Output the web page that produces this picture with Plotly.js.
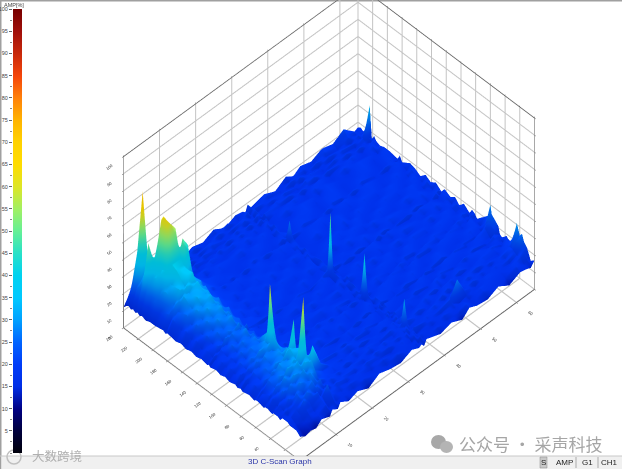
<!DOCTYPE html>
<html><head><meta charset="utf-8">
<script src="https://cdn.plot.ly/plotly-3.0.1.min.js"></script>
<style>html,body{margin:0;padding:0;background:#fff}#c{width:622px;height:469px}</style></head>
<body><div id="c"></div>
<script>
const scanX=[0,1.5,3,4.5,6,8.3,9,10.5,11.2,13.5,16,19,22,25,28,31,33,33.7,34.4,35.1,39,42,45,47,49,52,55,58,61,63,64,65];
const indexY=[0,5,10,14,17,20,24,27,30,36,38,44,47,49,58,60,62,69,78,81,85,88,96,102,108,114,122,124,126,134,141,148,155,162,169,180,183,186,197,204,210,215,218,221,224,227,230,233,236,240];
const amplitudeRows=[
[14,12,13,12,15,13,16,14,17,14,16,13,17,15,14,17,15,16,14,17,14,16,13,17,15,14,17,13,16,15,14,17],
[16,13,14,15,16,18,15,17,15,16,15,17,16,15,18,16,17,15,18,15,17,15,16,18,15,17,16,15,18,16,17,15],
[16,14,15,17,16,19,17,20,18,16,18,17,15,18,16,17,15,18,16,17,15,18,16,17,15,18,17,16,18,19,20,21],
[16,15,17,19,18,20,19,24,19,18,16,18,17,16,15,18,16,17,18,15,17,16,18,15,17,16,18,17,16,18,21,23],
[17,16,18,23,20,22,18,21,17,20,18,16,19,17,18,16,18,16,17,19,17,18,20,28,19,16,18,17,18,19,22,27],
[17,17,19,21,25,20,23,19,21,17,19,18,16,19,17,18,17,19,17,16,18,17,18,21,17,19,16,18,17,20,23,25],
[17,16,20,23,21,26,22,24,19,20,17,19,18,16,19,16,18,18,20,17,17,19,16,18,19,17,18,16,19,20,24,31],
[15,18,19,24,23,25,27,21,22,19,19,16,18,18,16,17,18,20,33,20,16,17,19,16,17,19,16,18,17,19,21,24],
[16,17,22,21,27,24,28,26,21,20,17,19,16,19,17,19,17,18,22,17,19,16,18,19,16,18,19,17,16,19,20,17],
[16,19,20,26,24,29,26,31,25,20,19,17,19,16,18,16,19,17,18,16,17,19,16,18,19,16,17,19,18,16,19,18],
[15,17,24,23,29,27,32,30,38,24,19,18,16,19,17,18,17,16,19,17,16,18,19,16,17,19,16,18,19,17,16,19],
[16,20,21,28,25,31,27,33,27,22,18,17,20,17,16,19,18,17,16,19,18,16,17,19,16,18,17,19,16,18,19,16],
[16,19,24,24,30,29,33,64,28,21,20,19,17,19,18,16,17,19,17,16,19,17,16,19,18,16,19,17,16,19,18,17],
[15,20,22,27,26,31,29,34,25,22,18,17,19,16,19,17,16,17,19,17,16,19,17,16,19,17,16,19,17,16,20,21],
[16,18,24,24,29,27,33,31,26,20,19,18,16,19,16,19,17,18,16,19,17,16,19,17,16,19,18,16,19,20,22,25],
[16,19,21,26,25,31,32,47,23,21,17,19,18,17,19,16,18,17,19,16,18,17,16,19,17,16,19,17,16,19,23,30],
[15,18,23,23,28,27,32,26,24,19,19,16,18,16,17,19,17,16,18,19,16,19,17,16,18,19,16,18,17,16,20,23],
[16,20,20,25,24,29,27,28,21,20,17,20,16,19,16,17,19,18,16,19,18,16,19,17,16,19,17,16,19,18,16,20],
[15,17,22,22,27,26,32,24,22,18,19,17,19,17,19,16,17,16,20,16,19,18,16,19,17,16,19,18,16,19,17,16],
[16,19,20,25,24,30,33,26,20,20,16,18,17,19,16,19,17,19,42,18,16,19,17,16,19,18,16,19,17,16,19,18],
[15,17,22,23,28,28,62,25,22,18,19,16,19,17,18,16,17,18,21,17,18,16,19,17,16,19,18,16,19,17,16,19],
[16,20,20,25,24,29,33,26,19,20,17,19,16,16,19,18,16,19,17,16,19,17,16,19,18,16,19,17,16,19,18,16],
[15,17,22,21,26,25,28,21,21,18,19,17,18,19,17,16,18,16,19,17,16,19,18,16,19,17,16,19,18,16,17,19],
[16,19,19,24,23,27,23,24,18,19,16,18,19,16,18,19,16,17,19,16,18,16,19,17,16,19,18,16,19,17,19,16],
[15,17,21,21,26,24,26,20,21,17,19,17,16,19,17,16,19,18,16,19,17,19,16,18,19,16,17,19,16,18,16,19],
[16,19,19,24,22,28,22,23,18,19,16,18,19,16,19,17,16,19,18,16,19,16,18,17,16,19,18,16,19,17,19,17],
[15,17,21,21,26,24,26,20,21,17,19,17,18,18,16,19,17,20,16,18,16,18,19,16,19,17,16,19,18,16,18,19],
[16,19,19,25,24,28,22,24,19,18,16,19,17,19,17,19,21,53,19,16,19,16,17,19,16,18,19,16,17,19,16,18],
[15,17,22,21,26,24,26,20,20,19,19,17,16,18,16,17,18,21,16,19,17,19,16,18,19,16,17,19,16,18,19,16],
[16,19,20,25,24,29,24,24,19,20,16,19,18,16,19,16,17,19,18,16,18,16,19,17,16,19,18,16,19,17,16,19],
[15,17,23,23,28,26,28,22,21,17,19,16,19,17,16,19,18,16,19,17,16,19,17,16,19,17,16,19,18,16,19,17],
[16,20,21,27,26,30,25,26,20,20,16,18,16,19,18,17,19,16,18,17,19,17,19,18,16,19,17,16,19,17,16,19],
[15,18,25,25,30,28,29,23,22,18,19,17,19,16,19,16,17,19,17,16,18,19,16,19,17,16,19,18,16,19,17,16],
[16,21,22,29,28,32,27,27,21,20,16,19,17,19,16,19,18,16,19,17,16,17,19,16,19,17,16,19,17,16,19,18],
[15,19,26,27,32,30,31,24,23,19,19,16,19,17,18,16,17,19,17,16,19,16,19,17,16,19,18,16,19,17,16,19],
[16,22,24,31,30,34,29,28,22,20,17,19,16,19,16,19,18,17,20,16,18,19,16,18,19,16,19,17,16,19,18,16],
[15,20,28,29,34,32,32,26,24,19,19,16,19,17,19,17,16,19,28,19,17,16,19,17,16,19,17,16,19,18,16,19],
[16,23,26,33,32,37,30,29,23,21,17,18,16,19,17,16,19,18,20,16,19,17,16,19,18,16,19,17,16,19,17,16],
[15,21,30,32,38,36,35,28,26,20,19,17,17,16,19,17,16,19,17,16,18,19,16,18,19,16,17,19,16,18,19,17],
[15,24,29,38,40,41,50,44,23,20,16,19,18,19,16,19,17,16,19,17,16,19,18,16,19,17,16,19,18,16,19,17],
[14,23,34,37,63,55,32,25,19,18,19,17,16,17,19,16,18,19,17,16,19,17,16,19,18,16,19,17,16,19,17,16],
[15,26,33,44,64,38,25,19,18,17,16,19,17,19,17,18,16,17,19,16,18,19,16,18,19,16,17,19,16,18,19,17],
[14,25,38,43,61,31,21,18,17,19,17,16,19,16,19,16,18,19,16,18,17,16,19,17,16,19,18,16,19,17,16,19],
[15,28,51,38,49,22,18,17,19,16,19,17,16,19,17,19,16,17,16,19,18,19,16,18,19,16,17,19,16,18,19,16],
[14,25,37,31,26,18,17,19,16,17,16,19,17,16,19,16,18,19,18,16,19,17,16,19,18,16,19,17,16,19,25,35],
[15,26,30,37,21,19,16,17,19,16,19,16,19,17,16,19,17,16,19,17,16,19,17,16,19,17,16,19,18,17,20,21],
[14,24,35,41,22,17,19,16,18,19,16,18,19,16,18,19,16,17,19,16,18,17,16,19,17,16,19,18,16,19,17,18],
[15,27,37,52,20,19,17,16,19,17,19,16,17,19,16,17,19,16,18,19,17,16,19,18,16,19,17,16,19,17,18,17],
[14,24,41,74,31,18,16,19,17,16,17,19,16,17,19,16,18,17,19,16,19,17,16,19,18,16,19,17,20,19,17,18],
[12,17,19,25,18,20,15,18,16,19,15,18,16,19,15,18,17,15,19,16,18,15,19,16,19,17,20,18,22,18,16,17]
];
const barLevels=[[0],[5],[10],[15],[20],[25],[30],[35],[40],[45],[50],[55],[60],[65],[70],[75],[80],[85],[90],[95],[100]];
const barTicks=[0,5,10,15,20,25,30,35,40,45,50,55,60,65,70,75,80,85,90,95,100];
const ampColors=[[0,'#00000a'],[0.05,'#00003c'],[0.10,'#000082'],[0.15,'#002ee6'],[0.20,'#003cf8'],[0.25,'#0064ff'],[0.30,'#00a0ff'],[0.35,'#00c8ff'],[0.40,'#00d2f0'],[0.45,'#28e1c8'],[0.50,'#64f096'],[0.55,'#a0f064'],[0.60,'#dce628'],[0.65,'#ffdc00'],[0.70,'#ffd200'],[0.75,'#ffb400'],[0.80,'#ff820a'],[0.85,'#f5460a'],[0.90,'#c8280a'],[0.95,'#a00f0a'],[1,'#780000']];

function ax(range,dt){return {range:range,dtick:dt,title:{text:''},showbackground:false,showspikes:false,zeroline:false,
  gridcolor:'#c4c4c4',gridwidth:2.5,linecolor:'#555',linewidth:1.5,showline:true,mirror:'all',ticks:'outside',ticklen:2,tickcolor:'#555',
  tickfont:{size:7,color:'#333',family:'Liberation Sans'}};}

const surface={type:'surface',x:scanX,y:indexY,z:amplitudeRows,cmin:0,cmax:100,colorscale:ampColors,showscale:false,
  lighting:{ambient:0.9,diffuse:0.2,specular:0,roughness:1,fresnel:0},hoverinfo:'skip',scene:'scene'};
const bar={type:'heatmap',z:barLevels,y:barTicks,x:[0],zmin:0,zmax:100,colorscale:ampColors,showscale:false,zsmooth:'best',xaxis:'x',yaxis:'y',hoverinfo:'skip'};
const PW=622,PH=469;
const note=(x,y,text,size,color,family)=>({xref:'paper',yref:'paper',x:x/PW,y:(PH-y)/PH,text:text,showarrow:false,xanchor:'center',yanchor:'middle',font:{size:size,color:color,family:family||'Liberation Sans'}});
const layout={width:PW,height:PH,margin:{l:0,r:0,t:0,b:0},paper_bgcolor:'#fff',showlegend:false,
  scene:{domain:{x:[0.058,1],y:[13/PH,1]},bgcolor:'rgba(0,0,0,0)',aspectmode:'manual',aspectratio:{x:1.444,y:1.103,z:1.121},
    camera:{projection:{type:'orthographic'},eye:{x:-0.952,y:-0.966,z:1.469},center:{x:0,y:0,z:-0.033},up:{x:0,y:0,z:1}},
    xaxis:ax([0,65],10),yaxis:ax([0,240],20),zaxis:ax([0,100],10)},
  xaxis:{domain:[13/PW,22/PW],visible:false,fixedrange:true},
  yaxis:{domain:[(PH-453)/PH,(PH-9)/PH],range:[0,100],side:'left',tickvals:barTicks.slice(1),ticks:'outside',ticklen:3,tickcolor:'#666',
    tickfont:{size:5.5,color:'#444',family:'Liberation Sans'},showgrid:false,zeroline:false,showline:false,fixedrange:true,
    minor:{dtick:2.5,ticks:'outside',ticklen:2,tickcolor:'#888'}},
  shapes:[
   {type:'rect',xref:'paper',yref:'paper',x0:0,x1:1,y0:1-1.5/PH,y1:1,fillcolor:'#a0a0a0',line:{width:0},layer:'below'},
   {type:'rect',xref:'paper',yref:'paper',x0:0,x1:1.5/PW,y0:0,y1:1,fillcolor:'#a0a0a0',line:{width:0},layer:'below'},
   {type:'rect',xref:'paper',yref:'paper',x0:1.5/PW,x1:1,y0:0,y1:13/PH,fillcolor:'#f0f0f0',line:{width:0},layer:'below'},
   {type:'line',xref:'paper',yref:'paper',x0:0,x1:1,y0:13/PH,y1:13/PH,line:{width:1,color:'#c8c8c8'},layer:'below'},
   {type:'rect',xref:'paper',yref:'paper',x0:540/PW,x1:547/PW,y0:1/PH,y1:12/PH,fillcolor:'#c8c8c8',line:{width:0.5,color:'#888'},layer:'below'},
   {type:'line',xref:'paper',yref:'paper',x0:576/PW,x1:576/PW,y0:1/PH,y1:12/PH,line:{width:1,color:'#aaa'},layer:'below'},
   {type:'line',xref:'paper',yref:'paper',x0:598/PW,x1:598/PW,y0:1/PH,y1:12/PH,line:{width:1,color:'#aaa'},layer:'below'},
   {type:'circle',xref:'paper',yref:'paper',x0:431/PW,x1:446/PW,y0:(PH-449)/PH,y1:(PH-435)/PH,fillcolor:'#a8a8a8',line:{width:0},layer:'below'},
   {type:'circle',xref:'paper',yref:'paper',x0:440/PW,x1:453/PW,y0:(PH-453)/PH,y1:(PH-441)/PH,fillcolor:'#b4b4b4',line:{width:0},layer:'below'},
   {type:'circle',xref:'paper',yref:'paper',x0:7/PW,x1:21/PW,y0:(PH-464)/PH,y1:(PH-450)/PH,fillcolor:'rgba(0,0,0,0)',line:{width:1.5,color:'#c0c0c0'},layer:'below'}
  ],
  annotations:[
   note(14,5,'AMP[%]',5.5,'#444'),
   note(280,461,'3D C-Scan Graph',8,'#2a35a8'),
   note(543.5,462,'S',8,'#222'),
   note(564,462,'AMP',8,'#222'),
   note(587,462,'G1',8,'#222'),
   note(609,462,'CH1',8,'#222'),
   note(531,443,'公众号 · 采声科技',17,'#a6a6a6','Noto Sans CJK SC'),
   note(57,455,'大数跨境',12.5,'#b0b0b0','Noto Sans CJK SC')
  ]};
Plotly.newPlot('c',[bar,surface],layout,{displayModeBar:false});
</script></body></html>
